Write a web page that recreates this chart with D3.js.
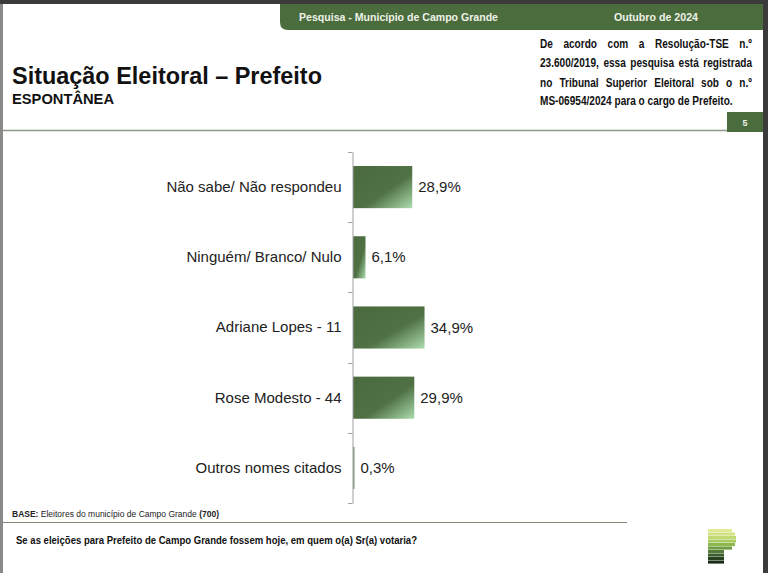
<!DOCTYPE html>
<html>
<head>
<meta charset="utf-8">
<script src="https://cdn.jsdelivr.net/npm/d3@7"></script>
<style>
  body{margin:0;background:#fff;}
  svg{display:block;font-family:"Liberation Sans",Arial,sans-serif;}
</style>
</head>
<body>
<div id="chart"></div>
<script>

var categories = ["Não sabe/ Não respondeu","Ninguém/ Branco/ Nulo","Adriane Lopes - 11","Rose Modesto - 44","Outros nomes citados"];
var values     = [28.9, 6.1, 34.9, 29.9, 0.3];

var noteLines  = [
  "De acordo com a Resolução-TSE n.º",
  "23.600/2019, essa pesquisa está registrada",
  "no Tribunal Superior Eleitoral sob o n.º",
  "MS-06954/2024 para o cargo de Prefeito."
];

var W = 768, H = 573;
var green = "#4b6c3d";

var svg = d3.select("#chart").append("svg")
  .attr("width",W)
  .attr("height",H);

var defs = svg.append("defs");
var grad = defs.append("linearGradient")
  .attr("id","barGrad")
  .attr("x1","0%").attr("y1","0%")
  .attr("x2","100%").attr("y2","100%");
grad.append("stop").attr("offset","0%").attr("stop-color","#4a6a3e");
grad.append("stop").attr("offset","58%").attr("stop-color","#4f7144");
grad.append("stop").attr("offset","100%").attr("stop-color","#acdcae");

//.................. page frame ..................
svg.append("rect").attr("x",0).attr("y",0).attr("width",W).attr("height",H).attr("fill","#3b3b3b");
svg.append("rect").attr("x",0).attr("y",4).attr("width",3).attr("height",H-4).attr("fill","#8a8a8a");
svg.append("rect").attr("x",3).attr("y",4).attr("width",760).attr("height",H-4).attr("fill","#fff");

// header band with rounded lower left corner
svg.append("path")
  .attr("d","M280,4 L763,4 L763,30 L288,30 Q280,30 280,22 Z")
  .attr("fill",green);

function fitText(sel,len){
  sel.attr("textLength",len).attr("lengthAdjust","spacingAndGlyphs");
  return sel;
}

fitText(svg.append("text")
  .attr("x",299).attr("y",21)
  .attr("fill","#eef2e8")
  .attr("font-size",11.5)
  .attr("font-weight","bold")
  .text("Pesquisa - Município de Campo Grande"),199);

fitText(svg.append("text")
  .attr("x",614).attr("y",21)
  .attr("fill","#eef2e8")
  .attr("font-size",11.5)
  .attr("font-weight","bold")
  .text("Outubro de 2024"),84);

fitText(svg.append("text")
  .attr("x",12).attr("y",84)
  .attr("fill","#111")
  .attr("font-size",23)
  .attr("font-weight","bold")
  .text("Situação Eleitoral – Prefeito"),310);

fitText(svg.append("text")
  .attr("x",12).attr("y",104)
  .attr("fill","#111")
  .attr("font-size",14)
  .attr("font-weight","bold")
  .text("ESPONTÂNEA"),102);

// justified note on the right: squeeze horizontally, spread words with word-spacing
var noteX0 = 540, noteX1 = 752;
var noteY  = [48,67,87,105];
var sq = 0.84;
noteLines.forEach(function(line,i){
  var last = i == noteLines.length-1;
  var t = svg.append("text")
    .attr("transform","translate("+noteX0+","+noteY[i]+") scale("+sq+",1)")
    .attr("font-size",12)
    .attr("font-weight","bold")
    .attr("fill","#111")
    .text(line);
  if (!last){
    var natural = t.node().getComputedTextLength();
    var nSpaces = line.split(" ").length-1;
    var ws = ((noteX1-noteX0)/sq - natural)/nSpaces;
    t.attr("word-spacing",ws);
  }
});

// separator and page number box
svg.append("line")
  .attr("x1",3).attr("x2",727)
  .attr("y1",130.5).attr("y2",130.5)
  .attr("stroke","#8d9a86").attr("stroke-width",1.5);
svg.append("rect")
  .attr("x",727).attr("y",112).attr("width",36).attr("height",20)
  .attr("fill",green);
svg.append("text")
  .attr("x",745).attr("y",126)
  .attr("text-anchor","middle")
  .attr("fill","#eef2e8")
  .attr("font-size",9)
  .attr("font-weight","bold")
  .text("5");

//.................. bar chart ..................
var x = d3.scaleLinear()
  .domain([0,100])
  .range([353,558]);

var y = d3.scaleBand()
  .domain(categories)
  .range([152,503])
  .paddingInner(0.4)
  .paddingOuter(0.2);

var chart = svg.append("g");

chart.selectAll("rect.bar")
  .data(values)
  .enter()
  .append("rect")
  .attr("class","bar")
  .attr("x",x(0))
  .attr("y",function(d,i){return y(categories[i]);})
  .attr("width",function(d){return Math.max(1.5,x(d)-x(0));})
  .attr("height",y.bandwidth())
  .attr("fill",function(d){return d < 1 ? "#7f9c78" : "url(#barGrad)";});

chart.selectAll("text.val")
  .data(values)
  .enter()
  .append("text")
  .attr("class","val")
  .attr("x",function(d){return Math.max(x(d),x(0)+1.5)+6;})
  .attr("y",function(d,i){return y(categories[i])+y.bandwidth()/2+5;})
  .attr("font-size",15)
  .attr("fill","#222")
  .text(function(d){return d3.format(".1f")(d).replace(".",",")+"%";});

var axis = chart.append("g")
  .attr("transform","translate(352.5,0)")
  .call(d3.axisLeft(y).tickSize(0).tickPadding(11));
axis.select(".domain").attr("stroke","#a0a0a0");
axis.selectAll("text")
  .attr("font-size",15)
  .attr("fill","#222")
  .attr("font-family","'Liberation Sans',Arial,sans-serif");

// boundary ticks between categories
var step = y.step();
var bounds = d3.range(categories.length+1).map(function(i){
  return y(categories[0]) - step*y.paddingInner()/2 + i*step;
});
chart.selectAll("line.btick")
  .data(bounds)
  .enter()
  .append("line")
  .attr("class","btick")
  .attr("x1",348).attr("x2",352.5)
  .attr("y1",function(d){return Math.round(d)+0.5;})
  .attr("y2",function(d){return Math.round(d)+0.5;})
  .attr("stroke","#a0a0a0");

//.................. footer ..................
var base = svg.append("text")
  .attr("x",12).attr("y",517)
  .attr("font-size",8.5)
  .attr("fill","#222");
base.append("tspan").attr("font-weight","bold").text("BASE:");
base.append("tspan").text(" Eleitores do município de Campo Grande ");
base.append("tspan").attr("font-weight","bold").text("(700)");
fitText(base,207);

svg.append("line")
  .attr("x1",3).attr("x2",627)
  .attr("y1",522.5).attr("y2",522.5)
  .attr("stroke","#7d8a76").attr("stroke-width",1.2);

fitText(svg.append("text")
  .attr("x",16).attr("y",544)
  .attr("font-size",10)
  .attr("font-weight","bold")
  .attr("fill","#111")
  .text("Se as eleições para Prefeito de Campo Grande fossem hoje, em quem o(a) Sr(a) votaria?"),401);

// logo: stacked stripes
var logoColors = ["#e2eb92","#d2e283","#c0d972","#a8cb60","#8cb84f","#6f9c41","#527c35","#3a5c2b","#283f20","#1b2d18"];
var logoWidths = [24,27,28,28,27,24,16,16,16,16];
svg.append("g").selectAll("rect")
  .data(logoColors)
  .enter()
  .append("rect")
  .attr("x",708)
  .attr("y",function(d,i){return 529+i*3.5;})
  .attr("width",function(d,i){return logoWidths[i];})
  .attr("height",3.1)
  .attr("fill",function(d){return d;});

</script>
</body>
</html>
